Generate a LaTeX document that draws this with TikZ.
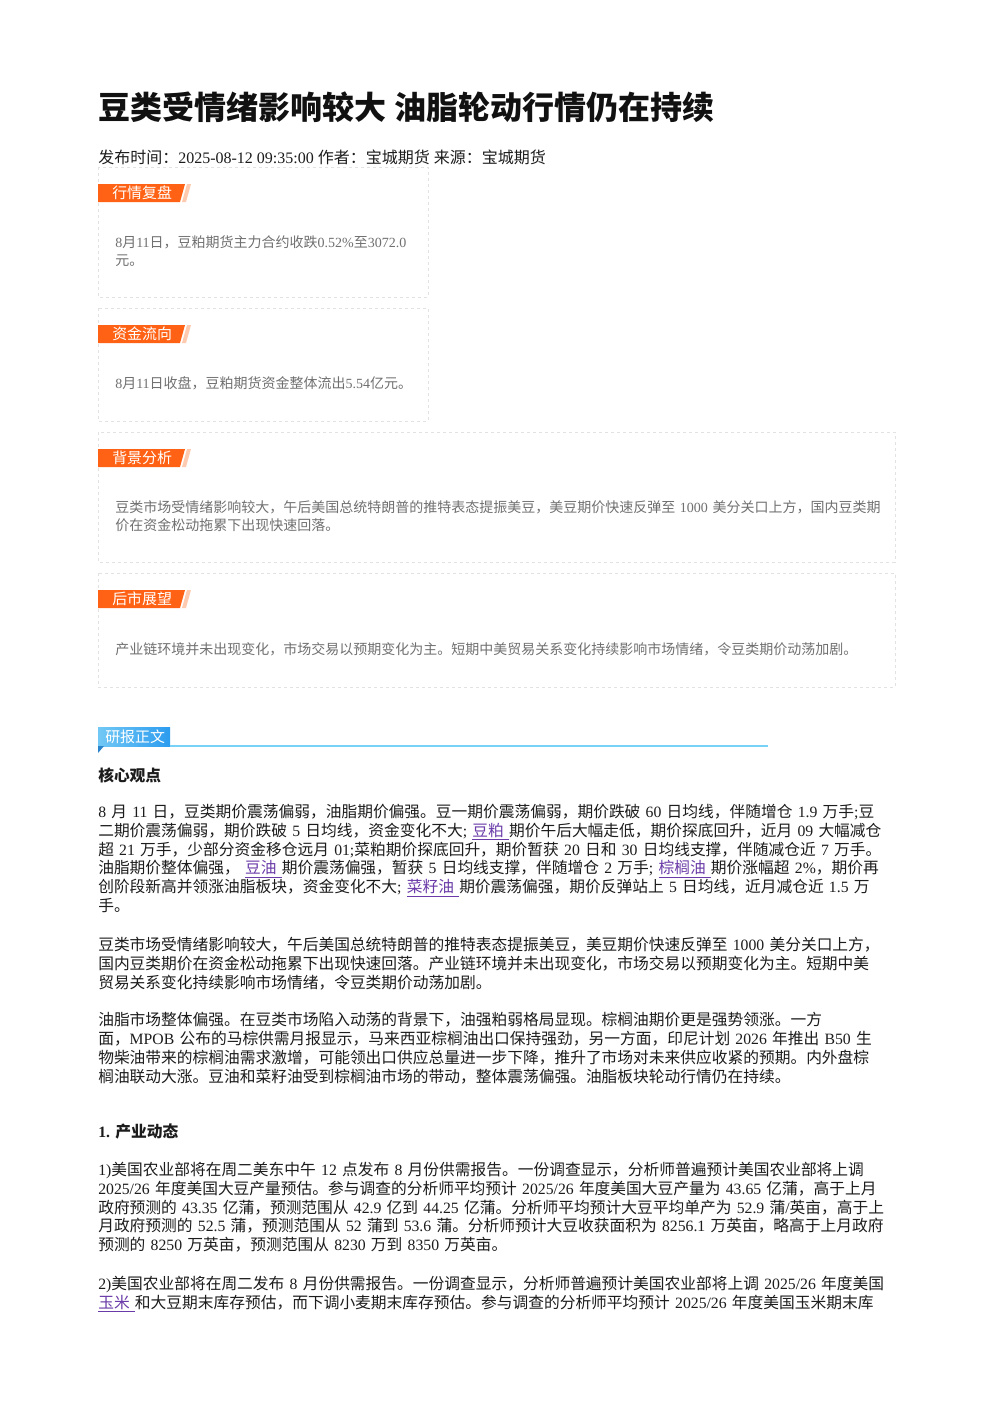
\documentclass[tikz,border=0pt]{standalone}
\usepackage{fontspec}
\setmainfont{Liberation Serif}
\newfontfamily\cjkfont{Noto Sans CJK SC}
\usepackage{tikz}

% switch to the CJK face for Chinese characters
\XeTeXinterchartokenstate=1
\newXeTeXintercharclass\cjkclass
\newcount\cjkcnt
\cjkcnt="2E80
\loop
  \XeTeXcharclass\cjkcnt=\cjkclass
  \ifnum\cjkcnt<"9FFF \advance\cjkcnt by 1
\repeat
\cjkcnt="FF00
\loop
  \XeTeXcharclass\cjkcnt=\cjkclass
  \ifnum\cjkcnt<"FFEF \advance\cjkcnt by 1
\repeat
\XeTeXinterchartoks 0 \cjkclass = {\cjkfont}
\XeTeXinterchartoks 4095 \cjkclass = {\cjkfont}
\XeTeXinterchartoks \cjkclass 0 = {\rmfamily}
\XeTeXinterchartoks \cjkclass 4095 = {\rmfamily}

\definecolor{titleInk}{HTML}{111111}
\definecolor{bodyInk}{HTML}{1C1C1C}
\definecolor{cardInk}{HTML}{707070}
\definecolor{cardLine}{HTML}{E2E2E2}
\definecolor{tabOrange}{HTML}{FF6214}
\definecolor{tabStripe}{HTML}{FFCBB0}
\definecolor{tabBlueL}{HTML}{72C8F5}
\definecolor{tabBlueR}{HTML}{2C9CEF}
\definecolor{tabBlueD}{HTML}{2A84CC}
\definecolor{ruleBlue}{HTML}{78D2F7}
\definecolor{linkPurple}{HTML}{6A3BA8}

\newcommand{\lnk}[1]{{\color{linkPurple}\underline{#1\ }}}

\tikzset{
  cardframe/.style={draw=cardLine, line width=0.75pt, dash pattern=on 2.5pt off 2pt},
  tablabel/.style={anchor=west, inner sep=0pt, text=white, font=\fontsize{11.2pt}{13pt}\selectfont},
  cardtext/.style={anchor=north west, inner sep=0pt, align=left, text width=600pt, text=cardInk, font=\fontsize{10.5pt}{13pt}\selectfont},
  bodytext/.style={anchor=north west, inner sep=0pt, align=left, text width=622pt, text=bodyInk, font=\fontsize{11.8pt}{14.1pt}\selectfont},
  headtext/.style={anchor=west, inner sep=0pt, text=bodyInk, font=\bfseries\fontsize{11.8pt}{14.1pt}\selectfont}
}

\begin{document}
\begin{tikzpicture}[x=0.75pt, y=-0.75pt]
    % Page
    \fill[white] (0,0) rectangle (992,1403);
    \useasboundingbox (0,0) rectangle (992,1403);

    % Title and byline
    \node[anchor=west, inner sep=0pt, text=titleInk, font=\bfseries\fontsize{24pt}{28pt}\selectfont] (title) at (98,107) {豆类受情绪影响较大 油脂轮动行情仍在持续};
    \node[anchor=west, inner sep=0pt, text=bodyInk, font=\fontsize{12pt}{14pt}\selectfont] (byline) at (98,157) {发布时间：2025-08-12 09:35:00 作者：宝城期货 来源：宝城期货};

    % Summary cards
    \draw[cardframe] (98,167) rectangle (428,297);
    \draw[cardframe] (98,308) rectangle (428,421);
    \draw[cardframe] (98,432) rectangle (895,562);
    \draw[cardframe] (98,573) rectangle (895,687);

    % Orange tabs
    \foreach \ty/\tname/\ttext in {184/fupan/行情复盘, 325/zijin/资金流向, 449/beijing/背景分析, 590/houshi/后市展望} {
        \fill[tabOrange] (98,\ty) -- (185,\ty) -- (180,\ty+18) -- (98,\ty+18) -- cycle;
        \fill[tabStripe] (187,\ty) -- (191,\ty) -- (186,\ty+18) -- (182,\ty+18) -- cycle;
        \node[tablabel] (\tname) at (112,\ty+9) {\ttext};
    }

    % Card texts
    \node[cardtext] (fupanText) at (115,235.6) {8月11日，豆粕期货主力合约收跌0.52\%至3072.0\\元。};
    \node[cardtext] (zijinText) at (115,376.6) {8月11日收盘，豆粕期货资金整体流出5.54亿元。};
    \node[cardtext] (beijingText) at (115,500.6) {豆类市场受情绪影响较大，午后美国总统特朗普的推特表态提振美豆，美豆期价快速反弹至 1000 美分关口上方，国内豆类期\\价在资金松动拖累下出现快速回落。};
    \node[cardtext] (houshiText) at (115,642.6) {产业链环境并未出现变化，市场交易以预期变化为主。短期中美贸易关系变化持续影响市场情绪，令豆类期价动荡加剧。};

    % Blue section tab
    \shade[left color=tabBlueL, right color=tabBlueR] (98,727) rectangle (170,746);
    \fill[tabBlueD] (98,746) -- (104,746) -- (98,753) -- cycle;
    \coordinate (ruleEnd) at (768,746);
    \draw[ruleBlue, line width=1.5pt] (170,746) -- (ruleEnd);
    \node[tablabel] (yanbao) at (105,736.5) {研报正文};

    % Body
    \node[headtext] (hexin) at (98,775) {核心观点};
    \node[bodytext] (parA) at (98,804) {8 月 11 日，豆类期价震荡偏弱，油脂期价偏强。豆一期价震荡偏弱，期价跌破 60 日均线，伴随增仓 1.9 万手;豆\\
二期价震荡偏弱，期价跌破 5 日均线，资金变化不大; \lnk{豆粕}期价午后大幅走低，期价探底回升，近月 09 大幅减仓\\
超 21 万手，少部分资金移仓远月 01;菜粕期价探底回升，期价暂获 20 日和 30 日均线支撑，伴随减仓近 7 万手。\\
油脂期价整体偏强，\ \lnk{豆油}期价震荡偏强，暂获 5 日均线支撑，伴随增仓 2 万手; \lnk{棕榈油}期价涨幅超 2\%，期价再\\
创阶段新高并领涨油脂板块，资金变化不大; \lnk{菜籽油}期价震荡偏强，期价反弹站上 5 日均线，近月减仓近 1.5 万\\
手。};
    \node[bodytext] (parB) at (98,937) {豆类市场受情绪影响较大，午后美国总统特朗普的推特表态提振美豆，美豆期价快速反弹至 1000 美分关口上方，\\
国内豆类期价在资金松动拖累下出现快速回落。产业链环境并未出现变化，市场交易以预期变化为主。短期中美\\
贸易关系变化持续影响市场情绪，令豆类期价动荡加剧。};
    \node[bodytext] (parC) at (98,1012) {油脂市场整体偏强。在豆类市场陷入动荡的背景下，油强粕弱格局显现。棕榈油期价更是强势领涨。一方\\
面，MPOB 公布的马棕供需月报显示，马来西亚棕榈油出口保持强劲，另一方面，印尼计划 2026 年推出 B50 生\\
物柴油带来的棕榈油需求激增，可能领出口供应总量进一步下降，推升了市场对未来供应收紧的预期。内外盘棕\\
榈油联动大涨。豆油和菜籽油受到棕榈油市场的带动，整体震荡偏强。油脂板块轮动行情仍在持续。};

    \node[headtext] (chanye) at (98,1132) {1. 产业动态};
    \node[bodytext] (parD) at (98,1162) {1)美国农业部将在周二美东中午 12 点发布 8 月份供需报告。一份调查显示，分析师普遍预计美国农业部将上调\\
2025/26 年度美国大豆产量预估。参与调查的分析师平均预计 2025/26 年度美国大豆产量为 43.65 亿蒲，高于上月\\
政府预测的 43.35 亿蒲，预测范围从 42.9 亿到 44.25 亿蒲。分析师平均预计大豆平均单产为 52.9 蒲/英亩，高于上\\
月政府预测的 52.5 蒲，预测范围从 52 蒲到 53.6 蒲。分析师预计大豆收获面积为 8256.1 万英亩，略高于上月政府\\
预测的 8250 万英亩，预测范围从 8230 万到 8350 万英亩。};
    \node[bodytext] (parE) at (98,1276) {2)美国农业部将在周二发布 8 月份供需报告。一份调查显示，分析师普遍预计美国农业部将上调 2025/26 年度美国\\
\lnk{玉米}和大豆期末库存预估，而下调小麦期末库存预估。参与调查的分析师平均预计 2025/26 年度美国玉米期末库};
\end{tikzpicture}
\end{document}
